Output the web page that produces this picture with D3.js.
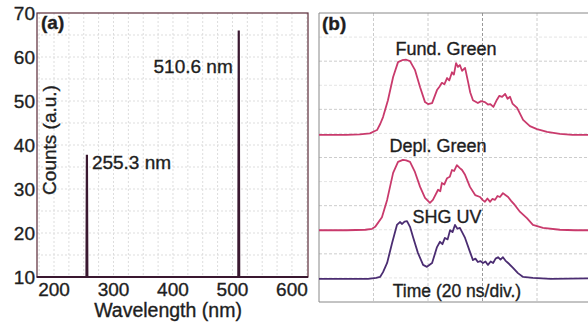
<!DOCTYPE html>
<html>
<head>
<meta charset="utf-8">
<script src="https://cdn.jsdelivr.net/npm/d3@7"></script>
<style>
  body { margin: 0; background: #fff; }
  text { font-family: "Liberation Sans", Arial, sans-serif; fill: #1e1e1e; stroke: #1e1e1e; stroke-width: 0.35px; }
</style>
</head>
<body>
<svg id="chart"></svg>
<script>
// panel (a): spectrum
var wavelength = [171, 254.6, 255.3, 256.0, 509.9, 510.6, 511.3, 627];
var counts = [10, 10, 37.8, 10, 10, 66, 10, 10];
var xTicksA = [200, 300, 400, 500, 600];
var yTicksA = [10, 20, 30, 40, 50, 60, 70];
var peakLabels = [{ text: "255.3 nm", wl: 255.3, c: 37.8 }, { text: "510.6 nm", wl: 510.6, c: 66 }];

// panel (b): oscilloscope traces, time in ns, amplitude in divisions
var fundT = [0, 10, 15, 18.7, 20.5, 21.3, 22.5, 23.5, 25.3, 27.2, 29, 30.5, 32, 33.4, 35.2, 37.1, 38.9, 40, 41.5, 43.3, 44.2, 45.1, 46, 47, 47.8, 48.8, 49.5, 50.3, 51, 51.7, 52.5, 53.6, 54.7, 55.5, 56.5, 58.3, 59.5, 60.9, 62, 62.8, 64, 65.3, 66.2, 67.2, 68.3, 69.2, 70.1, 71, 72.7, 74.9, 77.4, 80, 83.7, 88.4, 93, 100];
var fundV = [3.47, 3.47, 3.48, 3.5, 3.55, 3.57, 3.7, 3.84, 4.19, 4.67, 4.98, 5.02, 5.03, 5.0, 4.82, 4.46, 4.15, 4.11, 4.13, 4.4, 4.47, 4.55, 4.52, 4.65, 4.6, 4.77, 4.72, 4.96, 4.88, 4.92, 4.8, 4.86, 4.57, 4.35, 4.19, 4.13, 4.17, 4.15, 4.1, 4.11, 4.05, 4.2, 4.28, 4.26, 4.32, 4.22, 4.26, 4.12, 4.03, 3.78, 3.65, 3.59, 3.53, 3.49, 3.47, 3.47];

var deplT = [0, 10, 17, 19.5, 20.6, 23.1, 25, 27.2, 29, 30.8, 32, 33.4, 35.2, 37.1, 38.9, 40.7, 41.8, 43.7, 44.5, 45.1, 46, 47, 48, 48.8, 49.6, 50.6, 51.7, 52.5, 53.6, 55.4, 57.3, 59.1, 60, 60.9, 61.8, 62.8, 63.6, 64.6, 65.5, 66.4, 67.5, 68.4, 69.4, 70.5, 71.9, 73.8, 74.8, 76.3, 78.5, 82.2, 88.4, 94, 100];
var deplV = [1.49, 1.49, 1.5, 1.52, 1.56, 1.76, 2.12, 2.68, 2.91, 2.95, 2.94, 2.91, 2.7, 2.39, 2.16, 2.06, 2.12, 2.33, 2.3, 2.47, 2.44, 2.57, 2.6, 2.74, 2.72, 2.84, 2.78, 2.74, 2.64, 2.39, 2.22, 2.18, 2.12, 2.08, 2.15, 2.08, 2.14, 2.12, 2.2, 2.18, 2.26, 2.22, 2.18, 2.1, 2.01, 1.87, 1.82, 1.74, 1.6, 1.54, 1.5, 1.49, 1.49];

var shgT = [0, 10, 18, 21, 22.4, 23.5, 25, 26.8, 28.6, 29.7, 30.5, 31.4, 32.3, 33.4, 34.5, 36.3, 38.2, 39.6, 41.5, 43.3, 44.4, 45.3, 46.2, 47.2, 48.1, 49, 49.9, 50.8, 51.7, 53.6, 55.4, 56.5, 57.4, 58.3, 59.2, 60.2, 61.1, 62, 63, 63.9, 64.8, 65.7, 66.6, 67.5, 68.4, 69.4, 71.2, 73, 74.9, 78.5, 85, 100];
var shgV = [0.48, 0.48, 0.48, 0.5, 0.52, 0.62, 0.81, 1.22, 1.6, 1.66, 1.62, 1.67, 1.68, 1.56, 1.35, 1.02, 0.77, 0.73, 0.81, 1.14, 1.25, 1.2, 1.33, 1.3, 1.49, 1.45, 1.6, 1.52, 1.54, 1.33, 1.04, 0.87, 0.9, 0.83, 0.85, 0.81, 0.84, 0.77, 0.84, 0.81, 0.9, 0.93, 0.88, 0.93, 0.86, 0.81, 0.71, 0.6, 0.52, 0.5, 0.48, 0.49];

var traceNames = ["Fund. Green", "Depl. Green", "SHG UV"];

var W = 588, H = 324;
var svg = d3.select("#chart").attr("width", W).attr("height", H);

// ---------- panel (a) ----------
var xA = d3.scaleLinear().domain([171.4, 627]).range([37, 308]);
var yA = d3.scaleLinear().domain([10, 70]).range([277, 13]);

var gA = svg.append("g");

// faint grid
gA.selectAll(".vgrid").data(d3.range(175, 627, 25)).enter().append("line")
  .attr("x1", d => xA(d)).attr("x2", d => xA(d))
  .attr("y1", yA(70)).attr("y2", yA(10))
  .style("stroke", "#ddd").style("stroke-dasharray", "2,2");
gA.selectAll(".hgrid").data(d3.range(15, 70, 5)).enter().append("line")
  .attr("x1", xA.range()[0]).attr("x2", xA.range()[1])
  .attr("y1", d => yA(d)).attr("y2", d => yA(d))
  .style("stroke", "#ddd").style("stroke-dasharray", "2,2");

gA.append("rect")
  .attr("x", 37).attr("y", 13).attr("width", 271).attr("height", 264)
  .style("fill", "none").style("stroke", "#5a2a38").style("stroke-width", 1.2);

var spec = d3.line().x((d, i) => xA(wavelength[i])).y(d => yA(d));
gA.append("path").datum(counts)
  .attr("d", spec)
  .style("fill", "none").style("stroke", "#3a1830").style("stroke-width", 2.2);

gA.selectAll(".ytl").data(yTicksA).enter().append("text")
  .attr("x", 35).attr("y", d => yA(d) + 7)
  .attr("text-anchor", "end").style("font-size", "19px")
  .text(d => d);
gA.selectAll(".xtl").data(xTicksA).enter().append("text")
  .attr("x", d => xA(d)).attr("y", 296)
  .attr("text-anchor", "middle").style("font-size", "19px")
  .text(d => d);

gA.append("text").attr("x", 168).attr("y", 317)
  .attr("text-anchor", "middle").style("font-size", "19.5px")
  .text("Wavelength (nm)");
gA.append("text")
  .attr("transform", "translate(56,140) rotate(-90)")
  .attr("text-anchor", "middle").style("font-size", "19px")
  .text("Counts (a.u.)");
gA.append("text").attr("x", 41).attr("y", 29)
  .style("font-size", "19px").style("font-weight", "bold")
  .text("(a)");

gA.append("text").attr("x", xA(peakLabels[0].wl) + 5).attr("y", 169)
  .style("font-size", "19px").text(peakLabels[0].text);
gA.append("text").attr("x", xA(peakLabels[1].wl) - 6).attr("y", 73)
  .attr("text-anchor", "end").style("font-size", "19px").text(peakLabels[1].text);

// ---------- panel (b) ----------
var xB = d3.scaleLinear().domain([0, 100]).range([319, 591.5]);
var yB = d3.scaleLinear().domain([0, 6]).range([302, 13]);

var gB = svg.append("g");

gB.selectAll(".vg").data([20, 40, 60, 80]).enter().append("line")
  .attr("x1", d => xB(d)).attr("x2", d => xB(d))
  .attr("y1", yB(6)).attr("y2", yB(0))
  .style("stroke", d => d == 60 ? "#999" : "#ccc")
  .style("stroke-dasharray", "3,2");
gB.selectAll(".hg").data(d3.range(0.5, 6, 0.5)).enter().append("line")
  .attr("x1", xB(0)).attr("x2", W)
  .attr("y1", d => yB(d)).attr("y2", d => yB(d))
  .style("stroke", d => d % 1 == 0 ? "#ccc" : "#e4e4e4")
  .style("stroke-dasharray", "3,2");

gB.append("path")
  .attr("d", "M" + W + ",13H319V302H" + W)
  .style("fill", "none").style("stroke", "#888").style("stroke-width", 1);

var traces = [
  { t: fundT, v: fundV, color: "#c93a6c" },
  { t: deplT, v: deplV, color: "#c93a6c" },
  { t: shgT, v: shgV, color: "#4b2d72" }
];
traces.forEach(function (tr) {
  var line = d3.line().x((d, i) => xB(tr.t[i])).y(d => yB(d));
  gB.append("path").datum(tr.v)
    .attr("d", line)
    .style("fill", "none").style("stroke", tr.color)
    .style("stroke-width", 1.8).style("stroke-linejoin", "round");
});

gB.append("text").attr("x", 322).attr("y", 30)
  .style("font-size", "19px").style("font-weight", "bold").text("(b)");
var labelPos = [[446, 55], [438, 152], [447, 223]];
gB.selectAll(".tl").data(traceNames).enter().append("text")
  .attr("x", (d, i) => labelPos[i][0]).attr("y", (d, i) => labelPos[i][1])
  .attr("text-anchor", "middle").style("font-size", "18px")
  .text(d => d);
gB.append("text").attr("x", 457).attr("y", 297)
  .attr("text-anchor", "middle").style("font-size", "17.5px")
  .text("Time (20 ns/div.)");
</script>
</body>
</html>
